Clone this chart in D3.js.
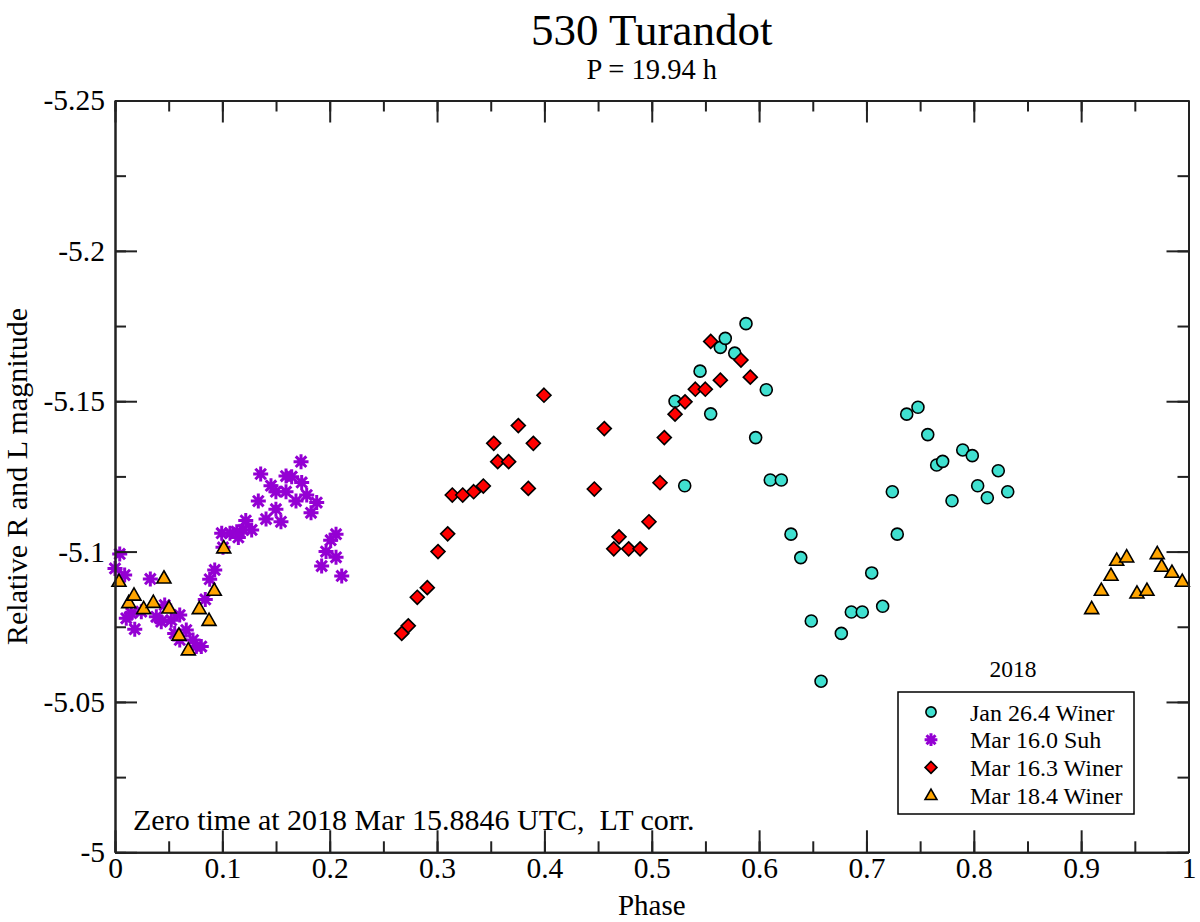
<!DOCTYPE html>
<html><head><meta charset="utf-8">
<script src="https://cdn.jsdelivr.net/npm/d3@7"></script>
<style>
html,body{margin:0;padding:0;background:#fff;}
svg{display:block;font-family:"Liberation Serif","Times New Roman",serif;}
</style></head>
<body>
<svg id="chart" width="1200" height="922"></svg>
<script>
// ---- data ----
const xTicks = [0,0.1,0.2,0.3,0.4,0.5,0.6,0.7,0.8,0.9,1];
const xTickLabels = ["0","0.1","0.2","0.3","0.4","0.5","0.6","0.7","0.8","0.9","1"];
const yTicks = [-5.25,-5.2,-5.15,-5.1,-5.05,-5];
const yTickLabels = ["-5.25","-5.2","-5.15","-5.1","-5.05","-5"];
const seriesNames = ["Jan 26.4 Winer","Mar 16.0 Suh","Mar 16.3 Winer","Mar 18.4 Winer"];

const janPhase = [0.5217,0.5307,0.5450,0.5549,0.5639,0.5685,0.5773,0.5878,0.5968,0.6067,0.6104,0.6207,0.6297,0.6388,0.6486,0.6577,0.6766,0.6859,0.6961,0.7049,0.7151,0.7241,0.7287,0.7375,0.7480,0.7571,0.7654,0.7710,0.7797,0.7897,0.7986,0.8036,0.8126,0.8228,0.8316];
const janMag = [-5.1500,-5.1219,-5.1600,-5.1458,-5.1679,-5.1709,-5.1660,-5.1758,-5.1379,-5.1538,-5.1238,-5.1238,-5.1058,-5.0980,-5.0769,-5.0569,-5.0728,-5.0799,-5.0799,-5.0929,-5.0818,-5.1199,-5.1058,-5.1457,-5.1480,-5.1389,-5.1288,-5.1300,-5.1169,-5.1338,-5.1319,-5.1219,-5.1179,-5.1269,-5.1199];

const suhPhase = [0.0044,0.0000,0.0090,0.0329,0.0105,0.0152,0.0245,0.0184,0.0385,0.0463,0.0431,0.0524,0.0603,0.0664,0.0556,0.0603,0.0727,0.0757,0.0804,0.0841,0.0882,0.0929,0.1006,0.0994,0.1071,0.1134,0.1195,0.1273,0.1149,0.1218,0.1407,0.1546,0.1499,0.1335,0.1686,0.1826,0.1879,0.1786,0.1499,0.1593,0.1453,0.1739,0.1593,0.1646,0.1357,0.1733,0.2059,0.2009,0.1966,0.2059,0.1925,0.2112];
const suhMag = [-5.0992,-5.0944,-5.0922,-5.0909,-5.0778,-5.0795,-5.0800,-5.0742,-5.0783,-5.0822,-5.0767,-5.0772,-5.0789,-5.0739,-5.0728,-5.0706,-5.0706,-5.0684,-5.0684,-5.0841,-5.0908,-5.0939,-5.1014,-5.1061,-5.1061,-5.1066,-5.1072,-5.1072,-5.1047,-5.1103,-5.1108,-5.1099,-5.1141,-5.1168,-5.1168,-5.1129,-5.1163,-5.1188,-5.1199,-5.1199,-5.1219,-5.1230,-5.1251,-5.1249,-5.1258,-5.1299,-5.1058,-5.1038,-5.1000,-5.0981,-5.0952,-5.0919];

const mar163Phase = [0.2671,0.2732,0.2816,0.2909,0.3009,0.3099,0.3142,0.3239,0.3341,0.3431,0.3528,0.3565,0.3667,0.3757,0.3897,0.3850,0.3996,0.4465,0.4558,0.4646,0.4695,0.4785,0.4891,0.4974,0.5077,0.5117,0.5217,0.5310,0.5406,0.5499,0.5549,0.5639,0.5831,0.5918];
const mar163Mag = [-5.0728,-5.0753,-5.0848,-5.0880,-5.1000,-5.1059,-5.1188,-5.1188,-5.1199,-5.1218,-5.1360,-5.1299,-5.1299,-5.1419,-5.1360,-5.1210,-5.1520,-5.1208,-5.1409,-5.1009,-5.1049,-5.1009,-5.1009,-5.1099,-5.1229,-5.1379,-5.1457,-5.1498,-5.1540,-5.1540,-5.1699,-5.1570,-5.1637,-5.1580];

const mar184Phase = [0.0037,0.0128,0.0177,0.0267,0.0357,0.0456,0.0503,0.0596,0.0683,0.0785,0.0876,0.0925,0.1013,0.9098,0.9188,0.9278,0.9331,0.9424,0.9520,0.9613,0.9709,0.9750,0.9846,0.9942];
const mar184Mag = [-5.0902,-5.0831,-5.0856,-5.0811,-5.0832,-5.0913,-5.0813,-5.0723,-5.0674,-5.0811,-5.0772,-5.0872,-5.1013,-5.0811,-5.0872,-5.0922,-5.0972,-5.0983,-5.0863,-5.0872,-5.0994,-5.0952,-5.0932,-5.0902];

// ---- layout ----
const L = 115, R = 1188.5, T = 100.5, B = 852.3;
const svg = d3.select("#chart");
const x = d3.scaleLinear().domain([0,1]).range([L,R]);
const y = d3.scaleLinear().domain([-5.25,-5]).range([T,B]);

const styles = [
  {shape:"circle", fill:"#40e0d0"},
  {shape:"star", fill:"#9400d3"},
  {shape:"diamond", fill:"#ff0000"},
  {shape:"triangle", fill:"#ffa500"}
];
const sets = [
  d3.zip(janPhase, janMag),
  d3.zip(suhPhase, suhMag),
  d3.zip(mar163Phase, mar163Mag),
  d3.zip(mar184Phase, mar184Mag)
];

function drawMarker(g, shape, fill, s) {
  s = s || 1;
  if (shape === "circle") {
    g.append("circle").attr("r", 6*s).attr("fill", fill).attr("stroke", "#000").attr("stroke-width", 1.6);
  } else if (shape === "diamond") {
    const r = 7*s;
    g.append("path").attr("d", `M0,${-r}L${r},0L0,${r}L${-r},0Z`).attr("fill", fill).attr("stroke", "#000").attr("stroke-width", 1.6);
  } else if (shape === "triangle") {
    const r = 7*s;
    g.append("path").attr("d", `M0,${-r}L${r},${r*0.75}L${-r},${r*0.75}Z`).attr("fill", fill).attr("stroke", "#000").attr("stroke-width", 1.6).attr("stroke-linejoin","miter");
  } else {
    const r = 7.5*s;
    let d = "";
    for (let k = 0; k < 4; k++) {
      const a = k*Math.PI/4;
      const dx = r*Math.cos(a), dy = r*Math.sin(a);
      d += `M${-dx},${-dy}L${dx},${dy}`;
    }
    g.append("path").attr("d", d).attr("stroke", fill).attr("stroke-width", 3).attr("fill", "none");
  }
}

// points
sets.forEach((pts, i) => {
  const st = styles[i];
  const grp = svg.append("g");
  pts.forEach(p => {
    const g = grp.append("g").attr("transform", `translate(${x(p[0])},${y(p[1])})`);
    drawMarker(g, st.shape, st.fill);
  });
});

// axes
const axisColor = "#222";
const xMinor = d3.range(0, 1.0001, 0.05).map(v => +v.toFixed(2));
const yMinor = d3.range(-5.25, -4.9999, 0.025).map(v => +v.toFixed(3));
const fmtX = d => xTickLabels[xTicks.findIndex(t => Math.abs(t-d) < 1e-9)];
const fmtY = d => yTickLabels[yTicks.findIndex(t => Math.abs(t-d) < 1e-9)];

function styleAxis(g){
  g.selectAll("path.domain").attr("stroke", axisColor).attr("stroke-width", 2);
  g.selectAll(".tick line").attr("stroke", axisColor).attr("stroke-width", 2);
  g.selectAll("text").attr("fill", "#000").style("font-family", '"Liberation Serif","Times New Roman",serif').style("font-size", "29.5px");
}

// bottom
svg.append("g").attr("transform", `translate(0,${B})`)
  .call(d3.axisBottom(x).tickValues(xMinor).tickSize(-11).tickSizeOuter(0).tickFormat("")).call(styleAxis);
svg.append("g").attr("transform", `translate(0,${B})`)
  .call(d3.axisBottom(x).tickValues(xTicks).tickSize(-22).tickSizeOuter(0).tickPadding(5).tickFormat(fmtX)).call(styleAxis)
  .selectAll("text").attr("dy", "0.71em");
// top
svg.append("g").attr("transform", `translate(0,${T})`)
  .call(d3.axisTop(x).tickValues(xMinor).tickSize(-11).tickSizeOuter(0).tickFormat("")).call(styleAxis);
svg.append("g").attr("transform", `translate(0,${T})`)
  .call(d3.axisTop(x).tickValues(xTicks).tickSize(-22).tickSizeOuter(0).tickFormat("")).call(styleAxis);
// left
svg.append("g").attr("transform", `translate(${L},0)`)
  .call(d3.axisLeft(y).tickValues(yMinor).tickSize(-11).tickSizeOuter(0).tickFormat("")).call(styleAxis);
svg.append("g").attr("transform", `translate(${L},0)`)
  .call(d3.axisLeft(y).tickValues(yTicks).tickSize(-22).tickSizeOuter(0).tickPadding(10).tickFormat(fmtY)).call(styleAxis);
// right
svg.append("g").attr("transform", `translate(${R},0)`)
  .call(d3.axisRight(y).tickValues(yMinor).tickSize(-11).tickSizeOuter(0).tickFormat("")).call(styleAxis);
svg.append("g").attr("transform", `translate(${R},0)`)
  .call(d3.axisRight(y).tickValues(yTicks).tickSize(-22).tickSizeOuter(0).tickFormat("")).call(styleAxis);

// titles
const cx = (L+R)/2;
svg.append("text").attr("x", cx).attr("y", 45).attr("text-anchor","middle").style("font-size","45px").text("530 Turandot");
svg.append("text").attr("x", cx).attr("y", 79).attr("text-anchor","middle").style("font-size","28.5px").text("P = 19.94 h");
svg.append("text").attr("x", cx).attr("y", 915).attr("text-anchor","middle").style("font-size","29px").text("Phase");
svg.append("text").attr("transform", `translate(27,${(T+B)/2}) rotate(-90)`).attr("text-anchor","middle").style("font-size","30px").text("Relative R and L magnitude");
svg.append("text").attr("x", 133).attr("y", 830).style("font-size","30px").text("Zero time at 2018 Mar 15.8846 UTC,\u00a0\u00a0LT corr.");

// legend
svg.append("text").attr("x", 1013).attr("y", 677).attr("text-anchor","middle").style("font-size","23.5px").text("2018");
svg.append("rect").attr("x", 898).attr("y", 692).attr("width", 236).attr("height", 122)
  .attr("fill", "#fff").attr("stroke", "#000").attr("stroke-width", 1.5);
seriesNames.forEach((name, i) => {
  const yy = 712 + i*27.7;
  const g = svg.append("g").attr("transform", `translate(931,${yy})`);
  drawMarker(g, styles[i].shape, styles[i].fill, 0.85);
  svg.append("text").attr("x", 970).attr("y", yy + 8.5).style("font-size","24px").text(name);
});
</script>
</body></html>
